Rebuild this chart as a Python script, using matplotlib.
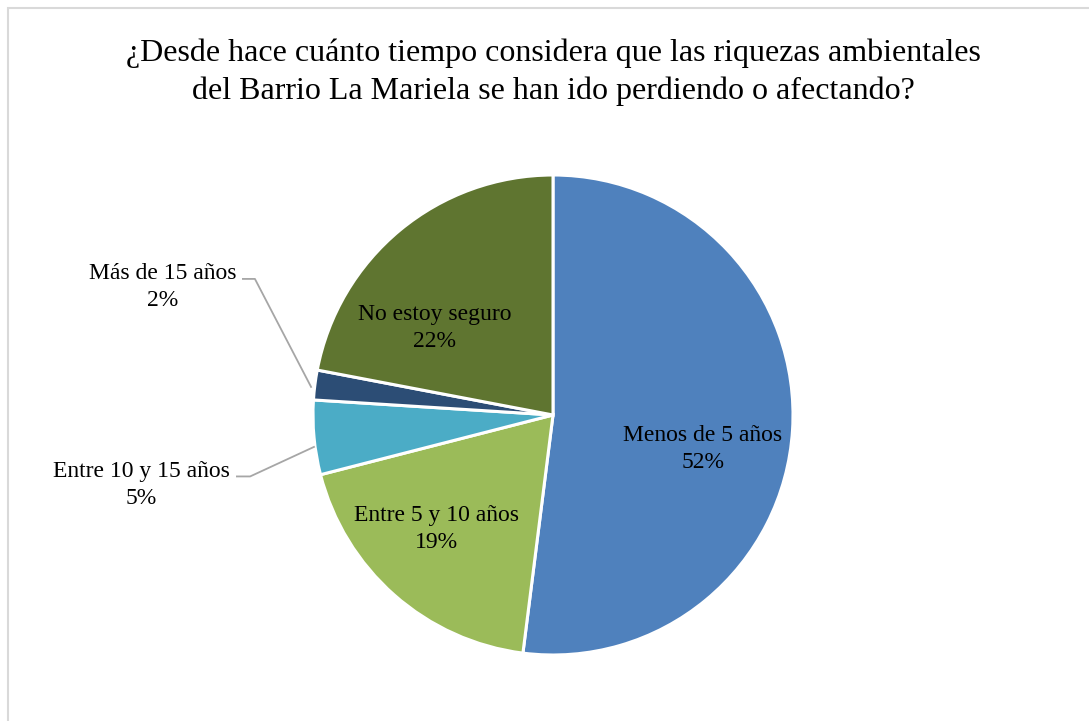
import matplotlib
matplotlib.use("Agg")
import matplotlib.pyplot as plt
from matplotlib.patches import Rectangle

categories = ["Menos de 5 años", "Entre 5 y 10 años", "Entre 10 y 15 años",
              "Más de 15 años", "No estoy seguro"]
values = [52, 19, 5, 2, 22]
colors = ["#4F81BD", "#9BBB59", "#4BACC6", "#2C4D75", "#5F7530"]
title = ("¿Desde hace cuánto tiempo considera que las riquezas ambientales\n"
         "del Barrio La Mariela se han ido perdiendo o afectando?")

plt.rcParams['font.family'] = ['Liberation Serif', 'DejaVu Serif']

W, H = 1089, 721
fig = plt.figure(figsize=(W / 100, H / 100), dpi=100)

# outer frame (only top/left visible)
fig.patches.append(Rectangle((8 / W, -0.5), 1.2, 0.5 + (H - 8) / H,
                             transform=fig.transFigure,
                             fill=False, edgecolor="#D9D9D9", linewidth=1.5))

cx, cy, R = 553, 415, 240
ax = fig.add_axes([(cx - R) / W, (H - cy - R) / H, 2 * R / W, 2 * R / H])
ax.pie(values, colors=colors, startangle=90, counterclock=False, radius=1,
       wedgeprops=dict(edgecolor="white", linewidth=2.2))
ax.set_xlim(-1, 1)
ax.set_ylim(-1, 1)
ax.set_aspect("equal")
ax.axis("off")

total = sum(values)
pcts = [f"{round(v / total * 100)}%" for v in values]

label_pos = [(0.625, -0.142), (-0.4875, -0.475), (-1.715, -0.29),
             (-1.625, 0.533), (-0.492, 0.3625)]
for cat, p, (x, y) in zip(categories, pcts, label_pos):
    ax.text(x, y, f"{cat}\n{p}", ha="center", va="center", multialignment="center",
            fontsize=17, color="#000000", linespacing=1.38, clip_on=False)

leaders = [
    [(-1.292, 0.567), (-1.242, 0.567), (-1.008, 0.117)],
    [(-1.317, -0.256), (-1.262, -0.256), (-0.996, -0.133)],
]
for pts in leaders:
    xs, ys = zip(*pts)
    ax.plot(xs, ys, color="#A6A6A6", linewidth=1.3, clip_on=False)

fig.text(553 / W, 1 - 72 / H, title, ha="center", va="center", fontsize=23,
         color="#000000", linespacing=1.36)

fig.savefig("out.png", dpi=100, facecolor="white")
